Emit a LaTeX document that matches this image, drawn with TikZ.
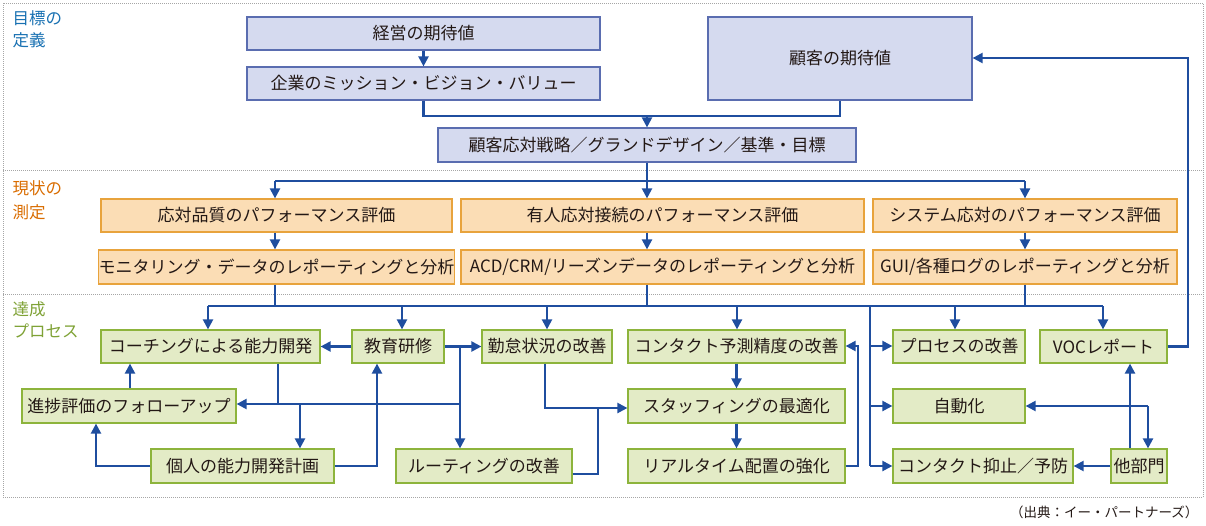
\documentclass[tikz,border=0pt]{standalone}
\usepackage{fontspec}
\setmainfont{Noto Sans CJK JP}
\usetikzlibrary{arrows.meta}
\definecolor{ln}{HTML}{1F4E9F}
\definecolor{bfill}{HTML}{D5DAEF}\definecolor{bdraw}{HTML}{5A6DB0}
\definecolor{ofill}{HTML}{FBDDB5}\definecolor{odraw}{HTML}{E8A33C}
\definecolor{gfill}{HTML}{E3EBC6}\definecolor{gdraw}{HTML}{8DB43C}
\definecolor{txt}{HTML}{231815}
\tikzset{
 bb/.style={draw=bdraw,fill=bfill,line width=1.2pt},
 ob/.style={draw=odraw,fill=ofill,line width=1.2pt},
 gb/.style={draw=gdraw,fill=gfill,line width=1.2pt},
 con/.style={draw=ln,line width=2.2pt},
 arr/.style={con,-{Triangle[length=10pt,width=10pt]}},
 lab/.style={anchor=west,font=\fontsize{16.5}{16.5}\selectfont},
}
\newcommand\bx[7]{\node[#6,inner sep=0pt,minimum width={(#4-#2)*1pt},minimum height={(#5-#3)*1pt},text=txt,font=\fontsize{17}{17}\selectfont] (#1) at ({(#2+#4)/2},{(#3+#5)/2}) {#7};}
\begin{document}
\begin{tikzpicture}[x=1pt,y=-1pt]
\useasboundingbox (0,0) rectangle (1206,525);
\draw[gray!70,densely dotted,line width=1pt] (3,3) rectangle (1203,497);
\draw[gray!70,densely dotted,line width=1pt] (3,170) -- (1203,170) (3,294) -- (1203,294);
\node[lab,text=ln!80!cyan] (l1) at (9,18) {目標の};
\node[lab,text=ln!80!cyan] (l2) at (9,40) {定義};
\node[lab,text=orange!85!black] (l3) at (9,188) {現状の};
\node[lab,text=orange!85!black] (l4) at (9,212) {測定};
\node[lab,text=gdraw!90!black] (l5) at (9,309) {達成};
\node[lab,text=gdraw!90!black] (l6) at (9,331) {プロセス};
\node[anchor=east,text=txt,font=\fontsize{13.5}{13.5}\selectfont] (src) at (1202,512) {（出典：イー・パートナーズ）};

\bx{k1}{247}{17}{600}{50}{bb}{経営の期待値}
\bx{k2}{247}{67}{600}{100}{bb}{企業のミッション・ビジョン・バリュー}
\bx{kc}{708}{17}{972}{100}{bb}{顧客の期待値}
\bx{st}{438}{128}{856}{162}{bb}{顧客応対戦略／グランドデザイン／基準・目標}
\bx{o1}{101}{199}{452}{232}{ob}{応対品質のパフォーマンス評価}
\bx{o2}{461}{199}{864}{232}{ob}{有人応対接続のパフォーマンス評価}
\bx{o3}{873}{199}{1177}{232}{ob}{システム応対のパフォーマンス評価}
\bx{p1}{101}{250}{452}{284}{ob}{モニタリング・データのレポーティングと分析}
\bx{p2}{461}{250}{864}{284}{ob}{ACD/CRM/リーズンデータのレポーティングと分析}
\bx{p3}{873}{250}{1177}{284}{ob}{GUI/各種ログのレポーティングと分析}
\bx{co}{101}{330}{320}{363}{gb}{コーチングによる能力開発}
\bx{ed}{352}{330}{444}{363}{gb}{教育研修}
\bx{ki}{482}{330}{612}{363}{gb}{勤怠状況の改善}
\bx{yo}{628}{330}{845}{363}{gb}{コンタクト予測精度の改善}
\bx{pr}{893}{330}{1025}{363}{gb}{プロセスの改善}
\bx{vo}{1040}{330}{1167}{363}{gb}{VOCレポート}
\bx{sh}{22}{389}{236}{423}{gb}{進捗評価のフォローアップ}
\bx{sf}{628}{389}{845}{423}{gb}{スタッフィングの最適化}
\bx{au}{893}{389}{1025}{423}{gb}{自動化}
\bx{ko}{151}{449}{334}{483}{gb}{個人の能力開発計画}
\bx{ru}{396}{449}{572}{483}{gb}{ルーティングの改善}
\bx{rt}{628}{449}{845}{483}{gb}{リアルタイム配置の強化}
\bx{yk}{893}{449}{1073}{483}{gb}{コンタクト抑止／予防}
\bx{ta}{1111}{449}{1167}{483}{gb}{他部門}

\coordinate (j1) at (647,116);
\coordinate (j2) at (647,181);
\coordinate (j3) at (647,306);
\coordinate (vx) at (870,306);
\draw[arr] (k1) -- (k2);
\draw[con] (k2.south) |- (j1) -| (kc.south);
\draw[arr] (j1) -- (st);
\draw[con] (st) -- (j2);
\draw[con] (275,181) -- (1025,181);
\draw[arr] (275,181) -- (o1.north -| 275,0);
\draw[arr] (j2) -- (o2.north -| j2);
\draw[arr] (1025,181) -- (o3.north -| 1025,0);
\draw[arr] (o1.south -| 275,0) -- (p1.north -| 275,0);
\draw[arr] (o2.south -| j2) -- (p2.north -| j2);
\draw[arr] (o3.south -| 1025,0) -- (p3.north -| 1025,0);
\draw[con] (p1.south -| 275,0) -- (275,306);
\draw[con] (p2.south -| j3) -- (j3);
\draw[con] (p3.south -| 1025,0) -- (1025,306);
\draw[con] (208,306) -- (1103,306);
\draw[arr] (208,306) -- (co.north -| 208,0);
\draw[arr] (402,306) -- (ed.north -| 402,0);
\draw[arr] (547,306) -- (ki.north -| 547,0);
\draw[arr] (737,306) -- (yo.north -| 737,0);
\draw[arr] (955,306) -- (pr.north -| 955,0);
\draw[arr] (1103,306) -- (vo.north -| 1103,0);
\draw[con] (vx) -- (870,466);
\draw[arr] (870,346) -- (pr.west |- 0,346);
\draw[arr] (870,406) -- (au.west |- 0,406);
\draw[arr] (870,466) -- (yk.west |- 0,466);
\draw[arr] (ed) -- (co);
\draw[arr] (ed) -- (ki);
\draw[arr] (460,346) -- (ru.north -| 460,0);
\draw[con] (co.south -| 278,0) -- (278,404);
\draw[arr] (460,404) -- (sh.east |- 0,404);
\draw[arr] (300,404) -- (ko.north -| 300,0);
\draw[arr] (sh.north -| 130,0) -- (co.south -| 130,0);
\draw[arr] (ko.west) -| (sh.south -| 96,0);
\draw[arr] (ko.east) -| (ed.south -| 377,0);
\draw[arr] (ki.south -| 545,0) |- (sf.west |- 0,408);
\draw[con] (ru.east |- 0,474) -| (598,408);
\draw[arr] (yo) -- (sf);
\draw[arr] (sf) -- (rt);
\draw[arr] (rt.east) -| (858,346) -- (yo.east |- 0,346);
\draw[arr] (vo.east) -| (1188,58) -- (kc.east |- 0,58);
\draw[arr] (ta.north -| 1130,0) -- (vo.south -| 1130,0);
\draw[arr] (1148,406) -- (au.east |- 0,406);
\draw[arr] (1148,406) -- (ta.north -| 1148,0);
\draw[arr] (ta) -- (yk);
\end{tikzpicture}
\end{document}
